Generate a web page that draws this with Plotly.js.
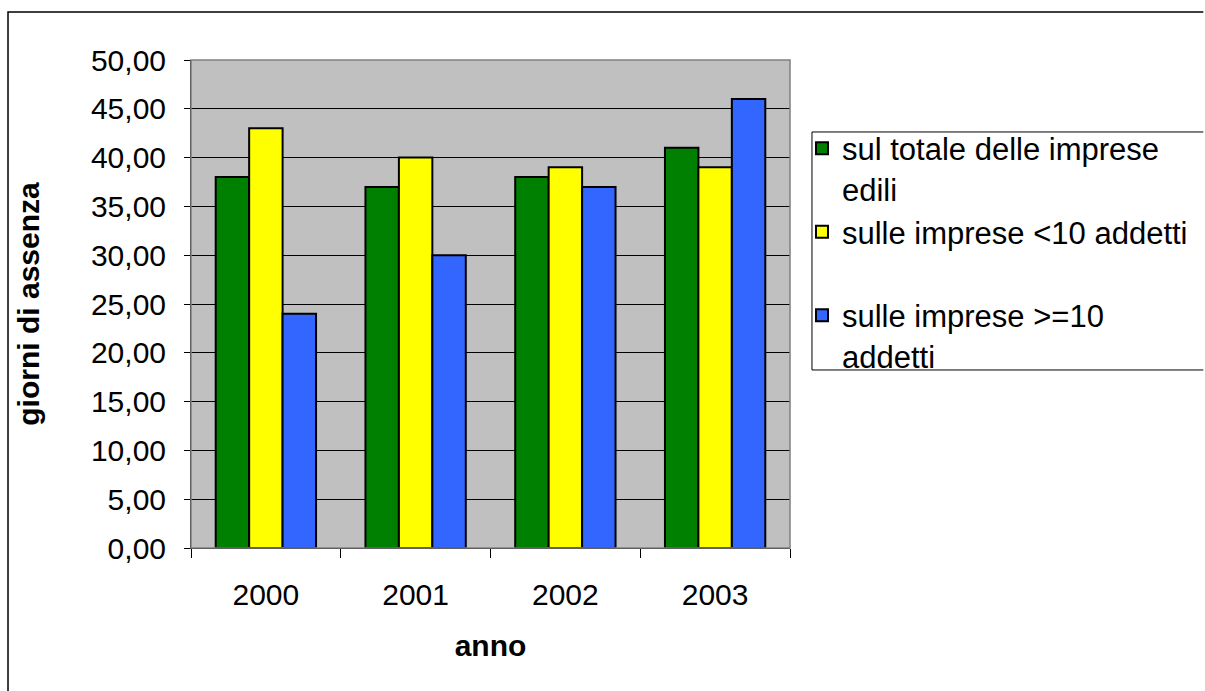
<!DOCTYPE html>
<html>
<head>
<meta charset="utf-8">
<script src="https://cdn.plot.ly/plotly-3.0.1.min.js"></script>
<style>html,body{margin:0;padding:0;background:#fff;overflow:hidden;}#chart{width:1205px;height:691px;}</style>
</head>
<body>
<div id="chart"></div>
<script>
const years = ['2000', '2001', '2002', '2003'];
const seriesNames = ['sul totale delle imprese<br>edili', 'sulle imprese <10 addetti<br> ', 'sulle imprese >=10<br>addetti'];
const totale = [38, 37, 38, 41];
const piccole = [43, 40, 39, 39];
const grandi = [24, 30, 37, 46];
const colors = ['#008000', '#FFFF00', '#3366FF'];
const yTicks = [0, 5, 10, 15, 20, 25, 30, 35, 40, 45, 50];

const FONT = 'Liberation Sans, Arial, sans-serif';
const values = [totale, piccole, grandi];
const traces = values.map((v, i) => ({
  type: 'bar',
  x: years,
  y: v,
  name: seriesNames[i],
  marker: {color: colors[i], line: {color: '#000', width: 2}},
  hoverinfo: 'none'
}));

const layout = {
  width: 1205, height: 691,
  margin: {l: 191, r: 415, t: 60, b: 143},
  paper_bgcolor: '#fff',
  plot_bgcolor: '#C0C0C0',
  barmode: 'group',
  bargap: 0.33,
  bargroupgap: 0,
  separators: ',.',
  font: {family: FONT, size: 30, color: '#000'},
  showlegend: true,
  legend: {
    x: 1.02, y: 0.874, xanchor: 'left', yanchor: 'top',
    bgcolor: 'rgba(0,0,0,0)', borderwidth: 0,
    font: {family: FONT, size: 31, color: '#000'},
    valign: 'top', tracegroupgap: 0
  },
  xaxis: {
    type: 'category',
    tickson: 'boundaries',
    ticks: 'outside', ticklen: 9, tickcolor: '#000', tickwidth: 1,
    showline: true, linecolor: '#000', linewidth: 1,
    showgrid: false,
    tickfont: {family: FONT, size: 30},
    ticklabelstandoff: 20,
    title: {text: '<b>anno</b>', font: {family: FONT, size: 30}, standoff: 24}
  },
  yaxis: {
    range: [0, 50],
    tickvals: yTicks,
    tickformat: '.2f',
    ticks: 'outside', ticklen: 6, tickcolor: '#000', tickwidth: 1,
    showline: true, linecolor: '#000', linewidth: 1,
    showgrid: true, gridcolor: '#000', gridwidth: 1,
    zeroline: false,
    tickfont: {family: FONT, size: 30},
    ticklabelstandoff: 12,
    title: {text: '<b>giorni di assenza</b>', font: {family: FONT, size: 30}, standoff: 42}
  },
  shapes: [
    {type: 'rect', xref: 'paper', yref: 'paper', x0: 0, x1: 1, y0: 0, y1: 1,
     line: {color: '#808080', width: 1.5}, layer: 'above'},
    {type: 'path', xref: 'paper', yref: 'paper',
     path: 'M 1.69,0.3648 L 1.0367,0.3648 L 1.0367,0.8525 L 1.69,0.8525',
     line: {color: '#000', width: 1}},
    {type: 'path', xref: 'paper', yref: 'paper',
     path: 'M -0.3055,-0.6 L -0.3055,1.0984 L 1.69,1.0984',
     line: {color: '#000', width: 1.5}}
  ]
};

Plotly.newPlot('chart', traces, layout, {displayModeBar: false, staticPlot: true});
</script>
</body>
</html>
